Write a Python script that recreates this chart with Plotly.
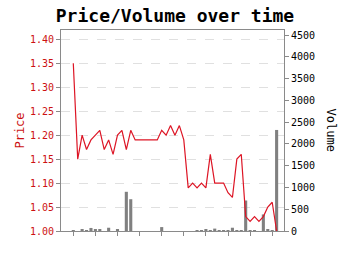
import plotly.graph_objects as go

idx = list(range(47))
price = [1.35, 1.15, 1.20, 1.17, 1.19, 1.20, 1.21, 1.17, 1.19, 1.16,
         1.20, 1.21, 1.17, 1.21, 1.19, 1.19, 1.19, 1.19, 1.19, 1.19,
         1.21, 1.20, 1.22, 1.20, 1.22, 1.19, 1.09, 1.10, 1.09, 1.10,
         1.09, 1.16, 1.10, 1.10, 1.10, 1.08, 1.07, 1.15, 1.16, 1.03,
         1.02, 1.03, 1.02, 1.03, 1.05, 1.06, 1.00]
volume = [10, 0, 25, 15, 70, 45, 45, 0, 75, 0,
          40, 0, 900, 730, 0, 0, 0, 0, 0, 0,
          90, 0, 0, 0, 0, 0, 0, 0, 20, 10,
          40, 10, 55, 10, 10, 10, 75, 10, 10, 700,
          15, 20, 0, 380, 25, 10, 2320]
price_ticks = [1.00, 1.05, 1.10, 1.15, 1.20, 1.25, 1.30, 1.35, 1.40]
volume_ticks = [0, 500, 1000, 1500, 2000, 2500, 3000, 3500, 4000, 4500]

mono = "DejaVu Sans Mono"
red = "#dd1525"
axis_grey = "#8a8a8a"

fig = go.Figure()
fig.add_trace(go.Bar(x=idx, y=volume, marker=dict(color="#808080", line=dict(width=0)),
                     yaxis="y", width=0.7, showlegend=False))
fig.add_trace(go.Scatter(x=idx, y=price, mode="lines", line=dict(color=red, width=1.2),
                         yaxis="y2", showlegend=False))

fig.update_layout(
    width=350, height=255,
    margin=dict(l=61, r=66, t=30, b=24),
    paper_bgcolor="white", plot_bgcolor="white",
    title=dict(text="<b>Price/Volume over time</b>", x=0.5, xanchor="center",
               y=0.94, yanchor="middle",
               font=dict(family=mono, size=18, color="black")),
    xaxis=dict(range=[-2.78, 47.67], tickmode="array", tickvals=list(range(0, 47, 5)),
               showticklabels=False, ticks="outside", ticklen=4, tickcolor=axis_grey,
               showline=True, linecolor=axis_grey, linewidth=1, mirror=True,
               showgrid=False, zeroline=False),
    yaxis=dict(side="right", range=[0, 4615], tickmode="array", tickvals=volume_ticks,
               ticks="outside", ticklen=4, tickcolor=axis_grey,
               tickfont=dict(family=mono, size=10, color="black"),
               showline=True, linecolor=axis_grey, linewidth=1,
               showgrid=False, zeroline=False),
    yaxis2=dict(side="left", overlaying="y", range=[1.0, 1.4194], tickmode="array",
                tickvals=price_ticks, ticktext=[f"{v:.2f}" for v in price_ticks],
                ticks="outside", ticklen=4, tickcolor=axis_grey,
                tickfont=dict(family=mono, size=10, color="#cc1111"),
                showline=True, linecolor=axis_grey, linewidth=1,
                showgrid=True, gridcolor="#e0e0e0", griddash="dash", gridwidth=1,
                zeroline=False,
                title=dict(text="Price", font=dict(family=mono, size=12, color="#cc1111"),
                           standoff=2)),
    annotations=[dict(text="Volume", xref="paper", yref="paper", x=1.215, y=0.5,
                      xanchor="center", yanchor="middle", textangle=90, showarrow=False,
                      font=dict(family=mono, size=12, color="black"))],
)

fig.write_html("out.html")
